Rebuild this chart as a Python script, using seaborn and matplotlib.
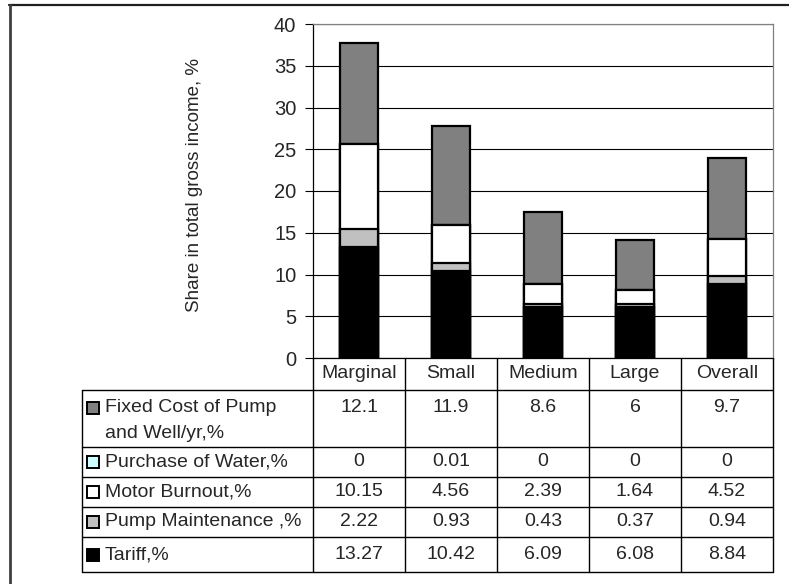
import matplotlib
matplotlib.use("Agg")
import matplotlib.pyplot as plt
from matplotlib.patches import Rectangle
from matplotlib.lines import Line2D
import seaborn as sns
import numpy as np

categories = ["Marginal", "Small", "Medium", "Large", "Overall"]
tariff = [13.27, 10.42, 6.09, 6.08, 8.84]
pump_maintenance = [2.22, 0.93, 0.43, 0.37, 0.94]
motor_burnout = [10.15, 4.56, 2.39, 1.64, 4.52]
purchase_water = [0, 0.01, 0, 0, 0]
fixed_cost = [12.1, 11.9, 8.6, 6, 9.7]
value_text = {
    "fixed": ["12.1", "11.9", "8.6", "6", "9.7"],
    "water": ["0", "0.01", "0", "0", "0"],
    "motor": ["10.15", "4.56", "2.39", "1.64", "4.52"],
    "pump": ["2.22", "0.93", "0.43", "0.37", "0.94"],
    "tariff": ["13.27", "10.42", "6.09", "6.08", "8.84"],
}
series_labels = ["Fixed Cost of Pump\nand Well/yr,%", "Purchase of Water,%",
                 "Motor Burnout,%", "Pump Maintenance ,%", "Tariff,%"]
series_colors = ["#808080", "#CCFFFF", "#FFFFFF", "#C0C0C0", "#000000"]
yticks = [0, 5, 10, 15, 20, 25, 30, 35, 40]

sns.set_theme(style="white")
plt.rcParams["font.family"] = ["Liberation Sans", "DejaVu Sans"]
FS = 14

W, H = 789, 584
fig = plt.figure(figsize=(W / 100, H / 100), dpi=100)

def fx(px):
    return px / W

def fy(py):
    return 1 - py / H

ax_l, ax_r, ax_t, ax_b = 313, 773, 24, 358
ax = fig.add_axes([fx(ax_l), fy(ax_b), fx(ax_r - ax_l), (ax_b - ax_t) / H])

# stacked bars (drawn as cumulative totals, top layer first)
layers_bottom_up = [tariff, pump_maintenance, motor_burnout, purchase_water, fixed_cost]
colors_bottom_up = ["#000000", "#C0C0C0", "#FFFFFF", "#CCFFFF", "#808080"]
cum = np.cumsum(np.array(layers_bottom_up), axis=0)
for i in range(len(layers_bottom_up) - 1, -1, -1):
    sns.barplot(x=categories, y=cum[i], order=categories, color=colors_bottom_up[i],
                saturation=1, edgecolor="black", linewidth=1.6, width=0.41,
                errorbar=None, ax=ax, zorder=3)

ax.set_ylim(0, 40)
ax.set_xlim(-0.5, 4.5)
ax.set_yticks(yticks)
ax.set_yticklabels([str(t) for t in yticks], fontsize=FS + 0.5)
ax.set_xticks([])
ax.set_xlabel("")
ax.set_ylabel("Share in total gross income, %", fontsize=13.5)
ax.yaxis.set_label_coords((203 - ax_l) / (ax_r - ax_l), (ax_b - 185.5) / (ax_b - ax_t))
ax.yaxis.grid(True, color="#000000", linewidth=0.8)
ax.set_axisbelow(True)
ax.tick_params(axis="y", which="both", left=True, length=6, width=0.8, color="black", pad=6)
for side in ["top", "right"]:
    ax.spines[side].set_color("#808080")
    ax.spines[side].set_linewidth(0.9)
for side in ["left", "bottom"]:
    ax.spines[side].set_color("black")
    ax.spines[side].set_linewidth(0.9)

# table
col_w = (ax_r - ax_l) / len(categories)
col_x = [ax_l + k * col_w for k in range(len(categories) + 1)]
tab_l = 82
hdr_b = 390
row_edges = [390, 447, 477, 507, 537, 572]

def line(x0, y0, x1, y1, color="black", lw=1.0):
    fig.add_artist(Line2D([fx(x0), fx(x1)], [fy(y0), fy(y1)], color=color, lw=lw))

# header
for xb in col_x:
    line(xb, ax_b, xb, row_edges[-1])
for k, c in enumerate(categories):
    fig.text(fx(col_x[k] + col_w / 2), fy((ax_b + hdr_b) / 2), c, ha="center", va="center", fontsize=FS)
# horizontal lines
for yb in row_edges:
    line(tab_l, yb, ax_r, yb)
line(tab_l, row_edges[0], tab_l, row_edges[-1])

keys = ["fixed", "water", "motor", "pump", "tariff"]
for r, key in enumerate(keys):
    top, bot = row_edges[r], row_edges[r + 1]
    yc = top + 18 if r == 0 else (top + bot) / 2
    sw = 12
    fig.add_artist(Rectangle((fx(87), fy(yc + sw / 2)), sw / W, sw / H,
                             facecolor=series_colors[r], edgecolor="black", lw=1.4))
    if r == 0:
        first, second = series_labels[r].split("\n")
        fig.text(fx(105), fy(yc), first, ha="left", va="center", fontsize=FS)
        fig.text(fx(105), fy(yc + 25), second, ha="left", va="center", fontsize=FS)
    else:
        fig.text(fx(105), fy(yc), series_labels[r], ha="left", va="center", fontsize=FS)
    for k in range(len(categories)):
        fig.text(fx(col_x[k] + col_w / 2), fy(yc), value_text[key][k], ha="center", va="center", fontsize=FS)

# outer frame (top and left)
line(9, 5, W, 5, color="#202020", lw=1.6)
line(10, 5, 10, H, color="#404040", lw=2.0)

fig.savefig("out.png", dpi=100)
